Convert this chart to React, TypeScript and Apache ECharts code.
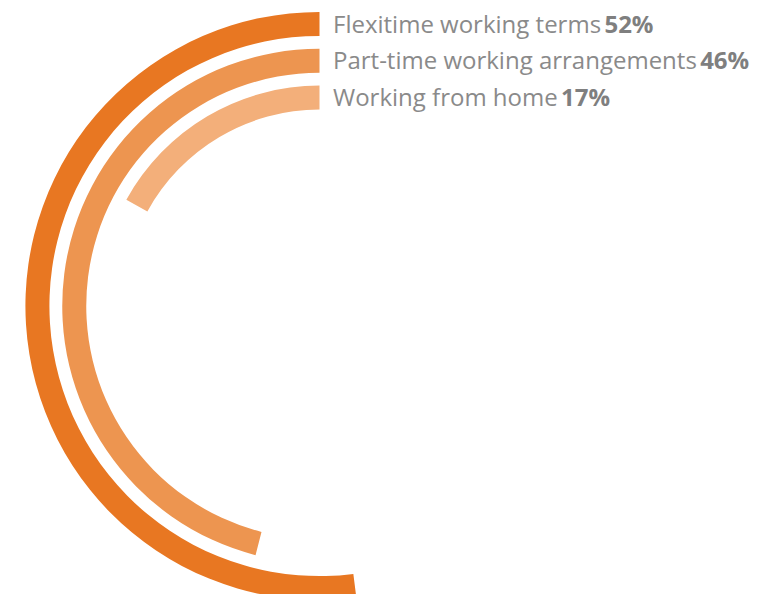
import React, { useEffect, useRef } from "react";
import * as echarts from "echarts";

// Data (outer ring first)
const categories = ["Flexitime working terms", "Part-time working arrangements", "Working from home"];
const values = [52, 46, 17];
const colors = ["#E87722", "#ED9550", "#F3AF7A"];

export default function App() {
  const ref = useRef<HTMLDivElement>(null);
  useEffect(() => {
    if (!ref.current) return;
    const chart = echarts.init(ref.current, undefined, { renderer: "svg" });
    // radius axis goes from inside to outside, so reverse
    const radCats = [...categories].reverse();
    const radVals = [...values].reverse();
    const radCols = [...colors].reverse();
    const lineY = [23, 59, 96];
    chart.setOption({
      animation: false,
      polar: { center: [319.5, 306], radius: [190, 300.5] },
      angleAxis: {
        type: "value",
        min: 0,
        max: 100,
        startAngle: 90,
        clockwise: false,
        show: false,
      },
      radiusAxis: {
        type: "category",
        data: radCats,
        show: false,
      },
      series: [
        {
          type: "bar",
          coordinateSystem: "polar",
          barWidth: 24,
          data: radVals.map((v, i) => ({ value: v, itemStyle: { color: radCols[i] } })),
        },
      ],
      graphic: categories.map((c, i) => ({
        type: "text",
        x: 333,
        y: lineY[i],
        style: {
          text: `{n|${c}} {b|${values[i]}%}`,
          verticalAlign: "middle",
          rich: {
            n: { fontFamily: "Open Sans", fontSize: 24, fill: "#8a8a8a", fontWeight: "normal" },
            b: { fontFamily: "Open Sans", fontSize: 24, fill: "#7f7f7f", fontWeight: "bold" },
          },
        },
      })),
    });
    return () => chart.dispose();
  }, []);
  return (
    <div
      ref={ref}
      style={{ position: "fixed", left: 0, top: 0, width: 779, height: 594, background: "#fff" }}
    />
  );
}
